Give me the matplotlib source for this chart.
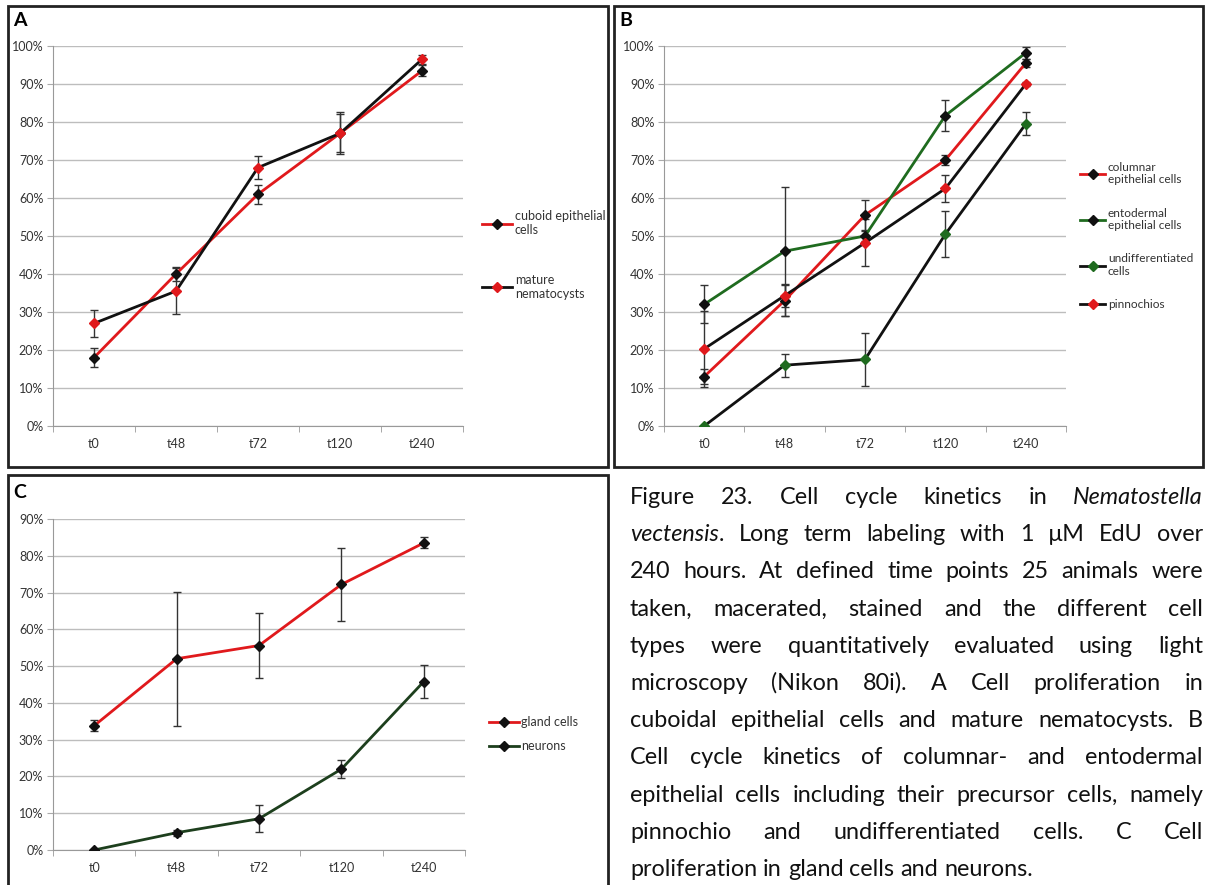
import numpy as np
import matplotlib.pyplot as plt
from matplotlib.patches import Rectangle
from matplotlib.ticker import FixedLocator, PercentFormatter

plt.rcParams['font.family'] = ['Lato', 'DejaVu Sans']

times = ["t0", "t48", "t72", "t120", "t240"]

# panel A
cuboid = [18.0, 40.0, 61.0, 77.0, 93.5]
cuboid_err = [2.5, 1.8, 2.5, 5.0, 1.5]
nemato = [27.0, 35.5, 68.0, 77.0, 96.5]
nemato_err = [3.5, 6.0, 3.0, 5.5, 1.2]

# panel B
columnar = [13.0, 33.0, 55.5, 70.0, 95.5]
columnar_err = [2.0, 4.0, 4.0, 1.2, 1.0]
entoderm = [32.0, 46.0, 50.0, 81.7, 98.2]
entoderm_err = [5.0, 17.0, 1.3, 4.0, 1.5]
undiff = [0.0, 16.0, 17.5, 50.5, 79.5]
undiff_err = [0.0, 3.0, 7.0, 6.0, 3.0]
pinno = [20.3, 34.3, 48.2, 62.5, 90.0]
pinno_err = [10.0, 3.0, 6.2, 3.5, 0.5]

# panel C
gland = [33.8, 52.0, 55.6, 72.2, 83.5]
gland_err = [1.5, 18.2, 8.8, 10.0, 1.5]
neurons = [0.0, 4.7, 8.5, 22.0, 45.8]
neurons_err = [0.0, 0.8, 3.7, 2.5, 4.5]

RED = '#e0191c'
GREEN = '#1f6b1f'
DKGREEN = '#1d3f1d'
BLACK = '#111111'

W, H = 1207, 885
fig = plt.figure(figsize=(W / 100, H / 100), dpi=100)


def px_axes(l, t, r, b):
    return fig.add_axes([l / W, 1 - b / H, (r - l) / W, (b - t) / H])


def style(ax, ymax):
    x = np.arange(len(times))
    ax.set_xlim(-0.5, len(times) - 0.5)
    ax.set_ylim(0, ymax)
    ax.set_xticks(x)
    ax.set_xticklabels(times)
    ax.xaxis.set_minor_locator(FixedLocator(np.arange(-0.5, len(times), 1)))
    ax.tick_params(axis='x', which='major', length=0, pad=9, labelsize=9, labelcolor='#333333')
    ax.tick_params(axis='x', which='minor', length=4, color='#999999', direction='out')
    ax.set_yticks(np.arange(0, ymax + 1, 10))
    ax.yaxis.set_major_formatter(PercentFormatter(decimals=0))
    ax.tick_params(axis='y', length=4, color='#aaaaaa', labelsize=9, labelcolor='#333333', pad=3)
    ax.grid(True, axis='y', color='#bdbdbd', linewidth=1)
    ax.set_axisbelow(True)
    for s in ['top', 'right']:
        ax.spines[s].set_visible(False)
    for s in ['left', 'bottom']:
        ax.spines[s].set_color('#999999')


def series(ax, y, err, line, marker, label):
    x = np.arange(len(times))
    ax.errorbar(x, y, yerr=err, fmt='none', ecolor='#333333', elinewidth=1,
                capsize=3, capthick=1, zorder=2)
    ax.plot(x, y, color=line, linewidth=2, marker='D', markersize=5.5,
            markerfacecolor=marker, markeredgecolor=marker, label=label, zorder=3)


# frames
for (l, t, r, b) in [(8, 6, 608, 467), (614, 6, 1203, 467), (8, 475, 608, 895)]:
    fig.patches.append(Rectangle((l / W, 1 - b / H), (r - l) / W, (b - t) / H,
                                 transform=fig.transFigure, fill=False,
                                 edgecolor='#222222', linewidth=2))

fig.text(13 / W, 1 - 21 / H, "A", fontsize=14, fontweight='bold', va='center')
fig.text(619 / W, 1 - 21 / H, "B", fontsize=14, fontweight='bold', va='center')
fig.text(13 / W, 1 - 492 / H, "C", fontsize=14, fontweight='bold', va='center')

leg_kw = dict(loc='center left', frameon=False, handletextpad=0.2,
              labelcolor='#333333', markerscale=0.85)

# A
axA = px_axes(53, 46, 463, 426)
style(axA, 100)
series(axA, cuboid, cuboid_err, RED, BLACK, "cuboid epithelial\ncells")
series(axA, nemato, nemato_err, BLACK, RED, "mature\nnematocysts")
axA.legend(bbox_to_anchor=(1.02, 0.45), labelspacing=3.0, fontsize=9,
           handlelength=2.4, **leg_kw)

# B
axB = px_axes(664, 46, 1066, 426)
style(axB, 100)
series(axB, columnar, columnar_err, RED, BLACK, "columnar\nepithelial cells")
series(axB, entoderm, entoderm_err, GREEN, BLACK, "entodermal\nepithelial cells")
series(axB, undiff, undiff_err, BLACK, GREEN, "undifferentiated\ncells")
series(axB, pinno, pinno_err, BLACK, RED, "pinnochios")
axB.legend(bbox_to_anchor=(1.015, 0.50), labelspacing=1.85, fontsize=8.6,
           handlelength=2.1, borderaxespad=0.3, **leg_kw)

# C
axC = px_axes(53, 519, 465, 850)
style(axC, 90)
series(axC, gland, gland_err, RED, BLACK, "gland cells")
series(axC, neurons, neurons_err, DKGREEN, BLACK, "neurons")
axC.legend(bbox_to_anchor=(1.03, 0.35), labelspacing=1.0, fontsize=9,
           handlelength=2.4, **leg_kw)

# caption, justified
caption = [
    [[("Figure", 0)], [("23.", 0)], [("Cell", 0)], [("cycle", 0)], [("kinetics", 0)], [("in", 0)], [("Nematostella", 1)]],
    [[("vectensis", 1), (".", 0)]] + [[(w, 0)] for w in "Long term labeling with 1 µM EdU over".split()],
    [[(w, 0)] for w in "240 hours. At defined time points 25 animals were".split()],
    [[(w, 0)] for w in "taken, macerated, stained and the different cell".split()],
    [[(w, 0)] for w in "types were quantitatively evaluated using light".split()],
    [[(w, 0)] for w in "microscopy (Nikon 80i). A Cell proliferation in".split()],
    [[(w, 0)] for w in "cuboidal epithelial cells and mature nematocysts. B".split()],
    [[(w, 0)] for w in "Cell cycle kinetics of columnar- and entodermal".split()],
    [[(w, 0)] for w in "epithelial cells including their precursor cells, namely".split()],
    [[(w, 0)] for w in "pinnochio and undifferentiated cells. C Cell".split()],
    [[(w, 0)] for w in "proliferation in gland cells and neurons.".split()],
]
cap_left, cap_right = 630, 1203
cap_base, cap_step = 504, 37.2
cap_size = 16.8

renderer = fig.canvas.get_renderer()
tmp1 = fig.text(0, 0, "a b", fontsize=cap_size)
tmp2 = fig.text(0, 0, "ab", fontsize=cap_size)
space = tmp1.get_window_extent(renderer).width - tmp2.get_window_extent(renderer).width
tmp1.remove()
tmp2.remove()

for i, words in enumerate(caption):
    y = 1 - (cap_base + i * cap_step) / H
    objs = []
    widths = []
    for word in words:
        segs = []
        wsum = 0
        for txt, it in word:
            t = fig.text(0, y, txt, fontsize=cap_size, va='baseline', color='#111111',
                         style='italic' if it else 'normal')
            w = t.get_window_extent(renderer).width
            segs.append((t, w))
            wsum += w
        objs.append(segs)
        widths.append(wsum)
    if i < len(caption) - 1:
        gap = max((cap_right - cap_left - sum(widths)) / (len(words) - 1), space * 0.6)
    else:
        gap = space
    x = cap_left
    for segs, wsum in zip(objs, widths):
        xx = x
        for t, w in segs:
            t.set_x(xx / W)
            xx += w
        x += wsum + gap

fig.savefig("out.png", dpi=100)
